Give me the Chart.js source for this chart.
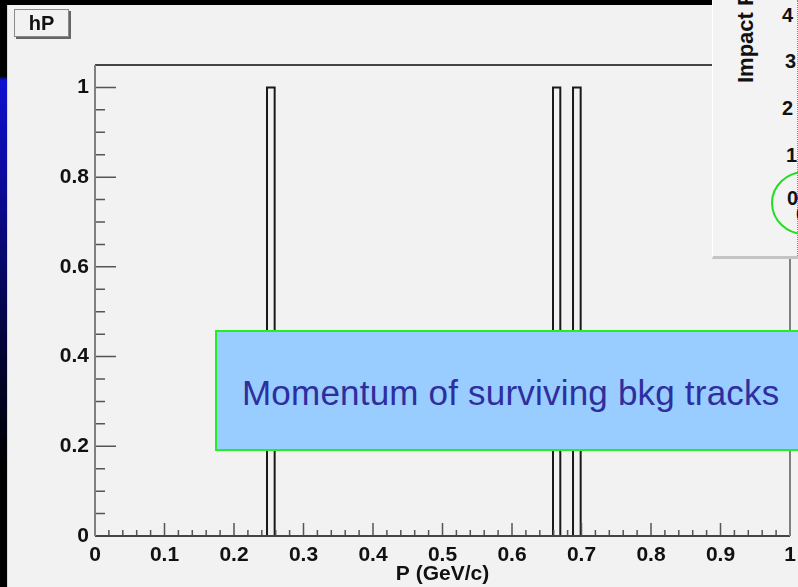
<!DOCTYPE html>
<html>
<head>
<meta charset="utf-8">
<script src="https://cdn.jsdelivr.net/npm/chart.js@4.4.0/dist/chart.umd.min.js"></script>
<style>
  html, body { margin: 0; padding: 0; background: #f2f2f2; }
  #wrap { position: relative; width: 798px; height: 587px; overflow: hidden; background: #f2f2f2; font-family: 'Liberation Sans', Arial, sans-serif; }
  #c { position: absolute; left: 0; top: 0; }
  .strip { position: absolute; left: 0; top: 0; width: 7px; height: 587px;
    background: linear-gradient(to bottom, #000 0px, #000 76px, #1010d0 80px, #0a0a90 200px, #050540 330px, #000 470px, #000 587px); }
  .stripEdge { position: absolute; left: 7px; top: 5px; width: 1px; height: 582px; background: #d8d8d8; }
  .topbar { position: absolute; left: 0; top: 0; width: 712px; height: 5px; background: #000; }
  .hp { position: absolute; left: 14px; top: 9px; width: 53px; height: 26px; border: 1px solid #8a8a8a;
    box-shadow: 2px 2px 0 #666; background: #f2f2f2; font: bold 20px 'Liberation Sans', Arial, sans-serif;
    color: #111; text-align: center; line-height: 26px; }
  .note { position: absolute; left: 215px; top: 330px; width: 600px; height: 121px; background: #99ccff;
    border: 2px solid #22ee22; box-sizing: border-box; }
  .note span { position: absolute; left: 25px; top: 41px; font: 35px 'Liberation Sans', Arial, sans-serif; color: #2e2e9e; white-space: nowrap; letter-spacing: 0.2px; }
  .pad { position: absolute; left: 712px; top: 0; width: 90px; height: 256px; background: #f3f3f3;
    border-left: 1px solid #fff; border-bottom: 3px solid #c4c4c4; overflow: hidden; }
  .pad .title { position: absolute; left: 20px; top: 83px; transform-origin: 0 0; transform: rotate(-90deg);
    font: bold 22px 'Liberation Sans', Arial, sans-serif; color: #111; white-space: nowrap; }
  .pad .tl { position: absolute; width: 20px; text-align: right; font: bold 20px 'Liberation Sans', Arial, sans-serif; color: #111; }
  .pad .axis { position: absolute; left: 84px; top: 0; width: 0; height: 256px; border-left: 1px dotted #888; }
  .pad svg { position: absolute; left: 0; top: 0; }
</style>
</head>
<body>
<div id="wrap">
  <canvas id="c" width="798" height="587"></canvas>
  <div class="strip"></div>
  <div class="stripEdge"></div>
  <div class="topbar"></div>
  <div class="hp">hP</div>
  <div class="note"><span>Momentum of surviving bkg tracks</span></div>
  <div class="pad">
    <div class="title">Impact P</div>
    <div class="axis"></div>
    <div class="tl" style="left:60px; top:4px;">4</div>
    <div class="tl" style="left:63px; top:50px;">3</div>
    <div class="tl" style="left:60px; top:97px;">2</div>
    <div class="tl" style="left:64px; top:144px;">1</div>
    <div class="tl" style="left:65px; top:187px;">0</div>
    <div class="tl" style="left:74px; top:203px;">0</div>
    <svg width="90" height="256">
      <ellipse cx="92" cy="203" rx="33" ry="31" fill="none" stroke="#22dd22" stroke-width="2"/>
      <circle cx="85" cy="198" r="1.5" fill="#2222ee"/>
    </svg>
  </div>
</div>
<script>
// histogram bins (P in GeV/c) and entries
const binLow = [0.2475, 0.659, 0.6878];
const binHigh = [0.2585, 0.6695, 0.6988];
const binCounts = [1, 1, 1];

const xTicks = [0, 0.1, 0.2, 0.3, 0.4, 0.5, 0.6, 0.7, 0.8, 0.9, 1];
const yTicks = [0, 0.2, 0.4, 0.6, 0.8, 1];
const xMin = 0, xMax = 1, yMin = 0, yMax = 1.05;

// outline of the histogram bars
const outline = [];
binLow.forEach((lo, i) => {
    outline.push({ x: lo, y: 0 }, { x: lo, y: binCounts[i] },
                 { x: binHigh[i], y: binCounts[i] }, { x: binHigh[i], y: 0 }, { x: NaN, y: NaN });
});

const tickFont = { family: "'Liberation Sans', Arial, sans-serif", size: 21, weight: 'bold' };
const fmt = v => String(+Number(v).toFixed(2));

// ROOT style frame with ticks drawn inside
const frame = {
    id: 'frame',
    afterDatasetsDraw(chart) {
        const { ctx, chartArea: a, scales: { x, y } } = chart;
        ctx.save();
        ctx.strokeStyle = '#555';
        ctx.lineWidth = 1.5;
        ctx.beginPath();
        for (let i = 0; i <= 50; i++) {
            const px = x.getPixelForValue(i * 0.02);
            const len = i % 5 === 0 ? 13 : 6;
            ctx.moveTo(px, a.bottom);
            ctx.lineTo(px, a.bottom - len);
        }
        for (let i = 0; i <= 20; i++) {
            const py = y.getPixelForValue(i * 0.05);
            const len = i % 4 === 0 ? 21 : 10;
            ctx.moveTo(a.left, py);
            ctx.lineTo(a.left + len, py);
        }
        ctx.stroke();
        ctx.lineWidth = 2;
        ctx.strokeStyle = '#444';
        ctx.beginPath();
        ctx.moveTo(a.left, a.top); ctx.lineTo(a.right, a.top);
        ctx.moveTo(a.left, a.bottom); ctx.lineTo(a.right, a.bottom);
        ctx.stroke();
        ctx.strokeStyle = '#808080';
        ctx.beginPath();
        ctx.moveTo(a.left, a.top); ctx.lineTo(a.left, a.bottom);
        ctx.moveTo(a.right, a.top); ctx.lineTo(a.right, a.bottom);
        ctx.stroke();
        ctx.restore();
    }
};

new Chart(document.getElementById('c'), {
    type: 'scatter',
    data: {
        datasets: [{
            data: outline,
            showLine: true,
            spanGaps: false,
            borderColor: '#1a1a1a',
            borderWidth: 2,
            pointRadius: 0,
            tension: 0,
            fill: false
        }]
    },
    options: {
        responsive: false,
        animation: false,
        layout: { padding: { top: 65, right: 8, left: 0, bottom: 0 } },
        plugins: { legend: { display: false }, tooltip: { enabled: false } },
        scales: {
            x: {
                type: 'linear', min: xMin, max: xMax,
                grid: { display: false, drawTicks: false }, border: { display: false },
                afterBuildTicks: s => { s.ticks = xTicks.map(v => ({ value: v })); },
                afterFit: s => { s.height = 51; s.paddingLeft = 0; s.paddingRight = 0; },
                ticks: { color: '#111', font: tickFont, padding: 7, maxRotation: 0, autoSkip: false, callback: fmt },
                title: { display: true, text: 'P (GeV/c)', color: '#111', font: tickFont, padding: 0 }
            },
            y: {
                type: 'linear', min: yMin, max: yMax,
                grid: { display: false, drawTicks: false }, border: { display: false },
                afterBuildTicks: s => { s.ticks = yTicks.map(v => ({ value: v })); },
                afterFit: s => { s.width = 95; s.paddingTop = 0; s.paddingBottom = 0; },
                ticks: { color: '#111', font: tickFont, padding: 6, autoSkip: false, callback: fmt }
            }
        }
    },
    plugins: [frame]
});
</script>
</body>
</html>
